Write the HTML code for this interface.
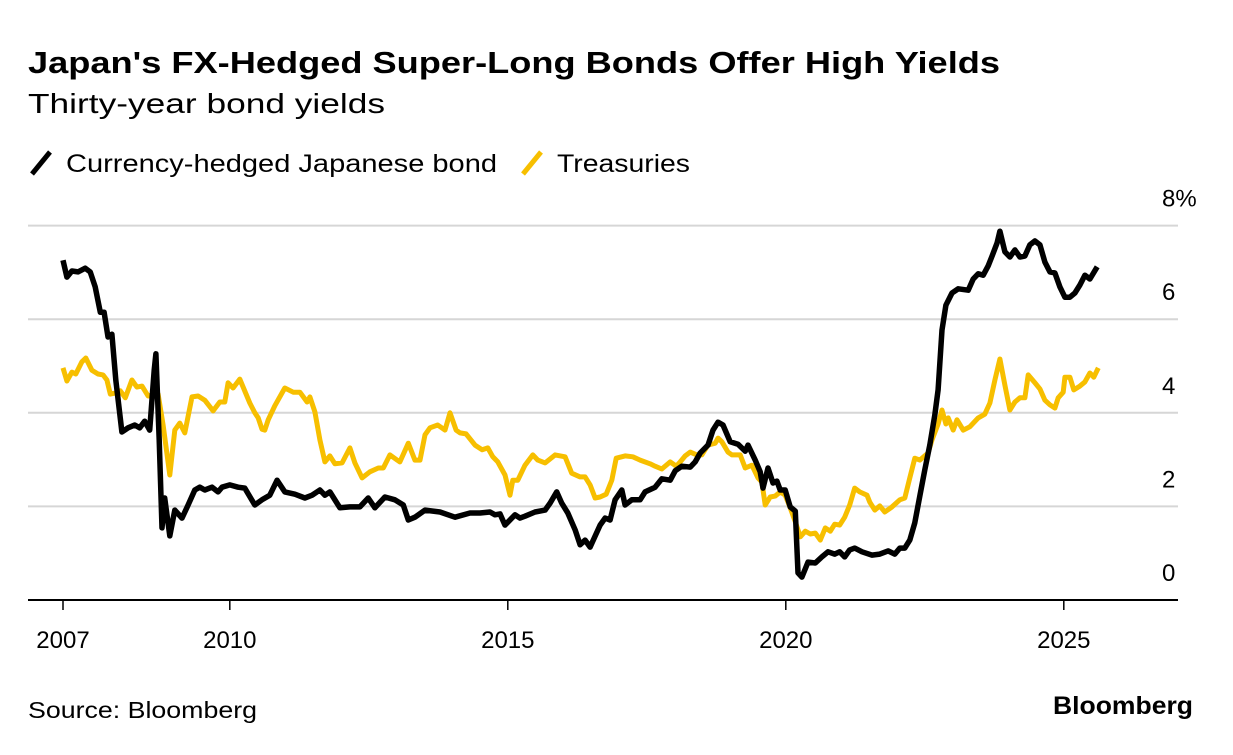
<!DOCTYPE html>
<html><head><meta charset="utf-8"><style>
body{margin:0;background:#fff;width:1233px;height:750px;overflow:hidden;font-family:"Liberation Sans",Arial,sans-serif;}
</style></head><body>
<svg width="1233" height="750" xmlns="http://www.w3.org/2000/svg" font-family="Liberation Sans, Arial, sans-serif">
<text x="28" y="73" font-size="31" font-weight="bold" fill="#000" textLength="972" lengthAdjust="spacingAndGlyphs">Japan's FX-Hedged Super-Long Bonds Offer High Yields</text>
<text x="28" y="113" font-size="28" fill="#000" textLength="357" lengthAdjust="spacingAndGlyphs">Thirty-year bond yields</text>
<g>
<line x1="32" y1="174" x2="50" y2="152" stroke="#000" stroke-width="5"/>
<text x="66" y="172" font-size="25" textLength="431" lengthAdjust="spacingAndGlyphs">Currency-hedged Japanese bond</text>
<line x1="523" y1="174" x2="541" y2="152" stroke="#f7bf00" stroke-width="5"/>
<text x="557" y="172" font-size="25" textLength="133" lengthAdjust="spacingAndGlyphs">Treasuries</text>
</g>
<g id="grid"></g><g id="xaxis"></g><g id="series"></g>
<text x="28" y="718" font-size="23" textLength="229" lengthAdjust="spacingAndGlyphs">Source: Bloomberg</text>
<text x="1053" y="714" font-size="25" font-weight="bold" textLength="140" lengthAdjust="spacingAndGlyphs">Bloomberg</text>
</svg>
<script>
const yTicks=[0,2,4,6,8];
const yTickLabels=["0","2","4","6","8%"];
const xTicks=[2007,2010,2015,2020,2025];
const baseYear=2007;
const japanT=[0,0.07,0.16,0.27,0.40,0.49,0.58,0.67,0.74,0.81,0.88,0.95,1.06,1.17,1.29,1.38,1.47,1.56,1.64,1.67,1.73,1.78,1.83,1.92,2.01,2.14,2.25,2.37,2.46,2.55,2.68,2.79,2.86,3.00,3.15,3.27,3.45,3.58,3.72,3.85,3.99,4.17,4.35,4.48,4.62,4.71,4.80,4.98,5.16,5.34,5.49,5.61,5.79,5.97,6.12,6.21,6.33,6.51,6.78,7.05,7.32,7.50,7.68,7.77,7.86,7.95,8.13,8.22,8.31,8.49,8.67,8.76,8.88,8.97,9.08,9.21,9.30,9.39,9.48,9.66,9.75,9.84,9.93,10.05,10.11,10.23,10.38,10.47,10.65,10.77,10.92,11.01,11.13,11.28,11.37,11.46,11.60,11.69,11.78,11.87,12.00,12.14,12.27,12.32,12.45,12.54,12.59,12.68,12.77,12.84,12.90,12.99,13.08,13.17,13.22,13.29,13.40,13.53,13.65,13.76,13.88,13.97,14.06,14.15,14.24,14.37,14.55,14.69,14.84,14.96,15.05,15.14,15.23,15.32,15.41,15.50,15.59,15.68,15.74,15.81,15.88,15.99,16.10,16.28,16.37,16.46,16.55,16.64,16.71,16.80,16.85,16.94,17.03,17.12,17.21,17.30,17.39,17.48,17.57,17.66,17.75,17.84,17.93,18.02,18.11,18.20,18.29,18.38,18.47,18.60];
const japanV=[7.26,6.90,7.03,7.01,7.09,7.01,6.69,6.15,6.15,5.62,5.68,4.70,3.59,3.68,3.74,3.68,3.82,3.63,4.91,5.26,3.42,1.54,2.18,1.37,1.92,1.75,2.03,2.35,2.41,2.35,2.41,2.31,2.41,2.46,2.41,2.39,2.03,2.14,2.24,2.56,2.31,2.26,2.18,2.24,2.35,2.24,2.31,1.97,1.99,1.99,2.18,1.97,2.20,2.14,2.03,1.71,1.77,1.92,1.88,1.77,1.86,1.86,1.88,1.82,1.84,1.60,1.82,1.75,1.79,1.88,1.92,2.07,2.31,2.07,1.86,1.50,1.18,1.28,1.13,1.60,1.75,1.71,2.14,2.35,2.03,2.14,2.14,2.31,2.41,2.59,2.56,2.76,2.86,2.84,2.95,3.14,3.31,3.63,3.80,3.74,3.38,3.33,3.18,3.31,2.99,2.74,2.39,2.82,2.50,2.54,2.35,2.35,1.99,1.90,0.58,0.49,0.81,0.79,0.92,1.03,0.98,1.03,0.92,1.07,1.11,1.03,0.96,0.98,1.05,0.98,1.11,1.11,1.28,1.65,2.22,2.78,3.31,3.95,4.49,5.77,6.30,6.56,6.65,6.62,6.86,6.97,6.94,7.14,7.35,7.63,7.88,7.44,7.33,7.48,7.33,7.35,7.59,7.67,7.59,7.22,7.01,6.99,6.69,6.47,6.47,6.56,6.73,6.94,6.86,7.12];
const tsyT=[0,0.07,0.16,0.23,0.34,0.41,0.52,0.63,0.72,0.79,0.85,0.94,1.03,1.12,1.24,1.33,1.42,1.53,1.62,1.71,1.80,1.92,2.01,2.10,2.19,2.32,2.43,2.55,2.70,2.82,2.91,2.97,3.06,3.18,3.36,3.45,3.51,3.58,3.63,3.69,3.81,3.99,4.14,4.26,4.39,4.44,4.53,4.62,4.71,4.80,4.89,5.02,5.16,5.25,5.38,5.52,5.67,5.76,5.88,6.01,6.06,6.21,6.33,6.42,6.51,6.60,6.74,6.87,6.96,7.07,7.14,7.25,7.41,7.54,7.64,7.73,7.82,7.95,8.04,8.09,8.18,8.31,8.45,8.54,8.67,8.85,9.03,9.15,9.30,9.39,9.48,9.57,9.66,9.77,9.87,9.95,10.11,10.25,10.38,10.56,10.65,10.77,10.92,11.03,11.10,11.19,11.28,11.40,11.49,11.60,11.73,11.78,11.85,11.96,12.03,12.18,12.27,12.39,12.50,12.57,12.63,12.72,12.81,12.90,12.99,13.08,13.17,13.26,13.35,13.44,13.53,13.62,13.71,13.80,13.88,13.97,14.06,14.15,14.24,14.33,14.46,14.51,14.60,14.69,14.78,14.91,15.05,15.14,15.23,15.32,15.41,15.56,15.63,15.74,15.81,15.88,15.92,16.01,16.08,16.19,16.31,16.46,16.58,16.67,16.76,16.85,16.94,17.03,17.12,17.21,17.30,17.36,17.48,17.57,17.66,17.75,17.84,17.90,17.99,18.02,18.11,18.18,18.29,18.38,18.47,18.54,18.62];
const tsyV=[4.96,4.68,4.87,4.83,5.09,5.17,4.91,4.83,4.81,4.70,4.40,4.42,4.47,4.32,4.70,4.55,4.57,4.36,4.38,4.40,3.74,2.67,3.63,3.78,3.57,4.34,4.36,4.27,4.04,4.23,4.23,4.64,4.53,4.72,4.21,4.00,3.89,3.65,3.63,3.85,4.15,4.53,4.44,4.44,4.23,4.34,4.02,3.42,2.95,3.08,2.91,2.93,3.25,2.93,2.61,2.74,2.82,2.82,3.10,2.99,2.95,3.35,2.99,2.99,3.53,3.68,3.74,3.63,4.00,3.63,3.57,3.55,3.31,3.21,3.25,3.06,2.95,2.67,2.24,2.56,2.56,2.88,3.10,2.99,2.93,3.10,3.06,2.71,2.63,2.63,2.46,2.18,2.20,2.26,2.56,3.03,3.08,3.06,2.99,2.91,2.86,2.80,2.95,2.86,2.95,3.08,3.16,3.10,3.10,3.31,3.35,3.46,3.38,3.16,3.10,3.10,2.82,2.88,2.61,2.52,2.03,2.20,2.22,2.31,2.24,1.97,1.67,1.35,1.47,1.41,1.43,1.28,1.54,1.47,1.62,1.60,1.77,2.03,2.39,2.31,2.24,2.09,1.92,2.01,1.88,1.99,2.14,2.18,2.61,3.03,2.99,3.14,3.42,3.76,4.06,3.76,3.89,3.63,3.85,3.63,3.70,3.89,3.97,4.21,4.70,5.15,4.59,4.06,4.23,4.32,4.32,4.81,4.64,4.51,4.27,4.17,4.10,4.32,4.44,4.76,4.76,4.49,4.57,4.66,4.85,4.76,4.96];

const NS='http://www.w3.org/2000/svg';
function xS(y){return 63+(y-2007)*55.6;}
function yS(v){return 600-v*46.8;}
function mk(tag,attrs,parent){const e=document.createElementNS(NS,tag);for(const k in attrs)e.setAttribute(k,attrs[k]);parent.appendChild(e);return e;}
const grid=document.getElementById('grid');
yTicks.forEach((v,i)=>{
  if(v>0){const l=mk('line',{x1:28,x2:1178,y1:yS(v),y2:yS(v),stroke:'#d6d6d6','stroke-width':2},grid);
  
  }
  const t=mk('text',{x:1162,y:yS(v)-19,'font-size':24,fill:'#000'},grid);
  t.textContent=yTickLabels[i];
  
  
});
const xa=document.getElementById('xaxis');
const base=mk('line',{x1:28,x2:1178,y1:600,y2:600,stroke:'#000','stroke-width':2},xa);


xTicks.forEach(y=>{
  const tk=mk('line',{x1:xS(y),x2:xS(y),y1:600,y2:610,stroke:'#000','stroke-width':1.5},xa);
  
  
  const t=mk('text',{x:xS(y),y:648,'font-size':24,'text-anchor':'middle'},xa);
  t.textContent=y;
  
  
});
const sg=document.getElementById('series');
function path(T,V){return T.map((t,i)=>(i?'L':'M')+xS(baseYear+t).toFixed(1)+','+yS(V[i]).toFixed(1)).join('');}
const p2=mk('path',{d:path(tsyT,tsyV),fill:'none',stroke:'#f7bf00','stroke-width':5,'stroke-linejoin':'round'},sg);


const p1=mk('path',{d:path(japanT,japanV),fill:'none',stroke:'#000','stroke-width':5.5,'stroke-linejoin':'round'},sg);


</script>
</body></html>
